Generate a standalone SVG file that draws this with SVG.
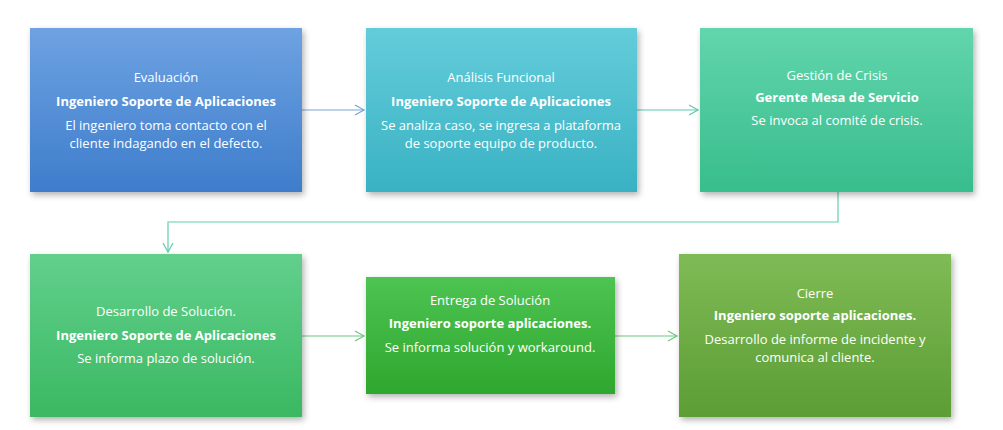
<svg xmlns="http://www.w3.org/2000/svg" width="1003" height="430" viewBox="0 0 1003 430">
<defs>
<linearGradient id="g1" x1="0" y1="0" x2="0" y2="1"><stop offset="0" stop-color="#6ea2e2"/><stop offset="1" stop-color="#3e7dcb"/></linearGradient>
<linearGradient id="g2" x1="0" y1="0" x2="0" y2="1"><stop offset="0" stop-color="#64ccda"/><stop offset="1" stop-color="#39b2c3"/></linearGradient>
<linearGradient id="g3" x1="0" y1="0" x2="0" y2="1"><stop offset="0" stop-color="#62d5ad"/><stop offset="1" stop-color="#38bd8c"/></linearGradient>
<linearGradient id="g4" x1="0" y1="0" x2="0" y2="1"><stop offset="0" stop-color="#62d08c"/><stop offset="1" stop-color="#3ab862"/></linearGradient>
<linearGradient id="g5" x1="0" y1="0" x2="0" y2="1"><stop offset="0" stop-color="#4ec452"/><stop offset="1" stop-color="#2ea72e"/></linearGradient>
<linearGradient id="g6" x1="0" y1="0" x2="0" y2="1"><stop offset="0" stop-color="#7fbb55"/><stop offset="1" stop-color="#5c9d35"/></linearGradient>
<filter id="sh" x="-10%" y="-10%" width="130%" height="130%"><feDropShadow dx="2" dy="3" stdDeviation="3" flood-color="#000" flood-opacity="0.3"/></filter>
<marker id="ab" markerWidth="12" markerHeight="12" refX="10" refY="6" orient="auto" markerUnits="userSpaceOnUse"><path d="M1,1 L10,6 L1,11" fill="none" stroke="#7aa3d6" stroke-width="1.2"/></marker>
<marker id="at" markerWidth="12" markerHeight="12" refX="10" refY="6" orient="auto" markerUnits="userSpaceOnUse"><path d="M1,1 L10,6 L1,11" fill="none" stroke="#5fc8b0" stroke-width="1.2"/></marker>
<marker id="ag" markerWidth="12" markerHeight="12" refX="10" refY="6" orient="auto" markerUnits="userSpaceOnUse"><path d="M1,1 L10,6 L1,11" fill="none" stroke="#6cc880" stroke-width="1.2"/></marker>
</defs>
<style>
text{font-family:"Segoe UI","Open Sans","Liberation Sans",sans-serif;font-size:13px;fill:#fff;text-anchor:middle}
.b{font-weight:bold}
rect{filter:url(#sh)}
</style>
<rect width="1003" height="430" fill="#fff" style="filter:none"/>
<g id="connectors" fill="none" stroke-width="1.2">
<path d="M302,110 H364" stroke="#7aa3d6" marker-end="url(#ab)"/>
<path d="M637,110 H698" stroke="#5fc8b0" marker-end="url(#at)"/>
<path d="M838,192 V222 H168 V252" stroke="#5fd0b0" marker-end="url(#at)"/>
<path d="M302,336 H364" stroke="#6cc880" marker-end="url(#ag)"/>
<path d="M615,336 H677" stroke="#6cc880" marker-end="url(#ag)"/>
</g>
<g id="n1"><rect x="30" y="28" width="272" height="164" fill="url(#g1)"/>
<text x="166" y="82">Evaluación</text><text x="166" y="106" class="b">Ingeniero Soporte de Aplicaciones</text>
<text x="166" y="130">El ingeniero toma contacto con el</text><text x="166" y="148">cliente indagando en el defecto.</text></g>
<g id="n2"><rect x="366" y="28" width="271" height="164" fill="url(#g2)"/>
<text x="501" y="82">Análisis Funcional</text><text x="501" y="106" class="b">Ingeniero Soporte de Aplicaciones</text>
<text x="501" y="130">Se analiza caso, se ingresa a plataforma</text><text x="501" y="148">de soporte equipo de producto.</text></g>
<g id="n3"><rect x="700" y="28" width="273" height="164" fill="url(#g3)"/>
<text x="837" y="80">Gestión de Crisis</text><text x="837" y="102" class="b">Gerente Mesa de Servicio</text>
<text x="837" y="125">Se invoca al comité de crisis.</text></g>
<g id="n4"><rect x="30" y="254" width="272" height="163" fill="url(#g4)"/>
<text x="166" y="316">Desarrollo de Solución.</text><text x="166" y="340" class="b">Ingeniero Soporte de Aplicaciones</text>
<text x="166" y="363">Se informa plazo de solución.</text></g>
<g id="n5"><rect x="366" y="277" width="249" height="117" fill="url(#g5)"/>
<text x="490" y="305">Entrega de Solución</text><text x="490" y="328" class="b">Ingeniero soporte aplicaciones.</text>
<text x="490" y="352">Se informa solución y workaround.</text></g>
<g id="n6"><rect x="679" y="254" width="272" height="163" fill="url(#g6)"/>
<text x="815" y="298">Cierre</text><text x="815" y="320" class="b">Ingeniero soporte aplicaciones.</text>
<text x="815" y="344">Desarrollo de informe de incidente y</text><text x="815" y="362">comunica al cliente.</text></g>
</svg>
